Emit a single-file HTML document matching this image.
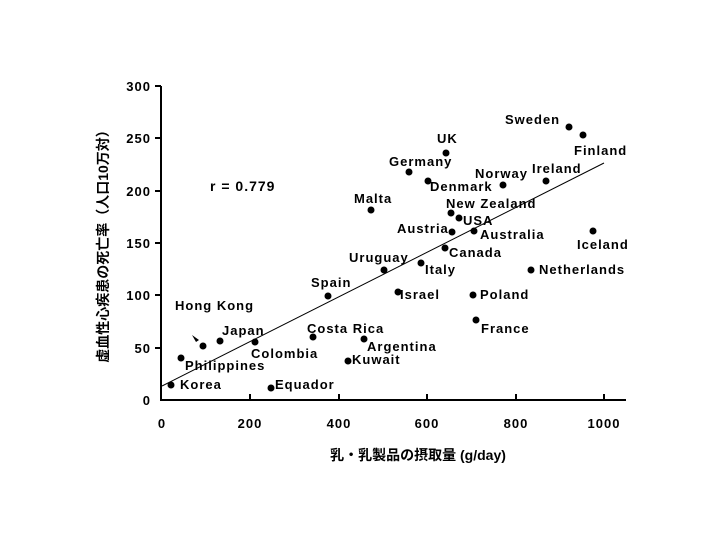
<!DOCTYPE html>
<html><head><meta charset="utf-8"><style>
body{margin:0;background:#fff}
svg text{font-family:"Liberation Sans","Noto Sans CJK JP",sans-serif;font-size:13px;font-weight:bold;fill:#000;letter-spacing:1px}
</style></head><body>
<svg width="719" height="539" viewBox="0 0 719 539" xmlns="http://www.w3.org/2000/svg">
<g stroke="#000" stroke-width="2" fill="none">
<line x1="161" y1="86" x2="161" y2="401"/>
<line x1="160" y1="400" x2="626" y2="400"/>
</g>
<g stroke="#000" stroke-width="2">
<line x1="155" y1="86" x2="161" y2="86"/>
<line x1="155" y1="138" x2="161" y2="138"/>
<line x1="155" y1="191" x2="161" y2="191"/>
<line x1="155" y1="243" x2="161" y2="243"/>
<line x1="155" y1="295" x2="161" y2="295"/>
<line x1="155" y1="348" x2="161" y2="348"/>
<line x1="250" y1="394" x2="250" y2="400"/>
<line x1="339" y1="394" x2="339" y2="400"/>
<line x1="427" y1="394" x2="427" y2="400"/>
<line x1="516" y1="394" x2="516" y2="400"/>
<line x1="604" y1="394" x2="604" y2="400"/>
</g>
<g text-anchor="end">
<text x="151" y="91">300</text><text x="151" y="143">250</text><text x="151" y="196">200</text>
<text x="151" y="248">150</text><text x="151" y="300">100</text><text x="151" y="353">50</text><text x="151" y="405">0</text>
</g>
<g text-anchor="middle">
<text x="162" y="428">0</text><text x="250" y="428">200</text><text x="339" y="428">400</text>
<text x="427" y="428">600</text><text x="516" y="428">800</text><text x="604" y="428">1000</text>
</g>
<text x="418" y="460" text-anchor="middle" style="font-size:14px;letter-spacing:0">乳・乳製品の摂取量 (g/day)</text>
<text transform="translate(108,243) rotate(-90)" text-anchor="middle" style="font-size:14px;letter-spacing:0">虚血性心疾患の死亡率（人口10万対）</text>
<text x="210" y="191" style="font-size:14px">r = 0.779</text>
<line x1="162" y1="386" x2="604" y2="163" stroke="#000" stroke-width="1"/>
<polygon points="192,335 199,340 196,342" fill="#000"/>
<g fill="#000">
<circle cx="569" cy="127" r="3.5"/><circle cx="583" cy="135" r="3.5"/><circle cx="446" cy="153" r="3.5"/>
<circle cx="409" cy="172" r="3.5"/><circle cx="428" cy="181" r="3.5"/><circle cx="503" cy="185" r="3.5"/>
<circle cx="546" cy="181" r="3.5"/><circle cx="371" cy="210" r="3.5"/><circle cx="451" cy="213" r="3.5"/>
<circle cx="459" cy="218" r="3.5"/><circle cx="452" cy="232" r="3.5"/><circle cx="474" cy="231" r="3.5"/>
<circle cx="593" cy="231" r="3.5"/><circle cx="445" cy="248" r="3.5"/><circle cx="531" cy="270" r="3.5"/>
<circle cx="384" cy="270" r="3.5"/><circle cx="421" cy="263" r="3.5"/><circle cx="328" cy="296" r="3.5"/>
<circle cx="398" cy="292" r="3.5"/><circle cx="473" cy="295" r="3.5"/><circle cx="476" cy="320" r="3.5"/>
<circle cx="313" cy="337" r="3.5"/><circle cx="364" cy="339" r="3.5"/><circle cx="348" cy="361" r="3.5"/>
<circle cx="220" cy="341" r="3.5"/><circle cx="203" cy="346" r="3.5"/><circle cx="255" cy="342" r="3.5"/>
<circle cx="181" cy="358" r="3.5"/><circle cx="171" cy="385" r="3.5"/><circle cx="271" cy="388" r="3.5"/>
</g>
<text x="505" y="124">Sweden</text><text x="574" y="155">Finland</text><text x="437" y="143">UK</text>
<text x="389" y="166">Germany</text><text x="430" y="191">Denmark</text><text x="475" y="178">Norway</text>
<text x="532" y="173">Ireland</text><text x="354" y="203">Malta</text><text x="446" y="208">New Zealand</text>
<text x="463" y="225">USA</text><text x="397" y="233">Austria</text><text x="480" y="239">Australia</text>
<text x="577" y="249">Iceland</text><text x="449" y="257">Canada</text><text x="539" y="274">Netherlands</text>
<text x="349" y="262">Uruguay</text><text x="425" y="274">Italy</text><text x="311" y="287">Spain</text>
<text x="400" y="299">Israel</text><text x="480" y="299">Poland</text><text x="481" y="333">France</text>
<text x="307" y="333">Costa Rica</text><text x="367" y="351">Argentina</text><text x="352" y="364">Kuwait</text>
<text x="222" y="335">Japan</text><text x="175" y="310">Hong Kong</text><text x="251" y="358">Colombia</text>
<text x="185" y="370">Philippines</text><text x="180" y="389">Korea</text><text x="275" y="389">Equador</text>
</svg>
</body></html>
